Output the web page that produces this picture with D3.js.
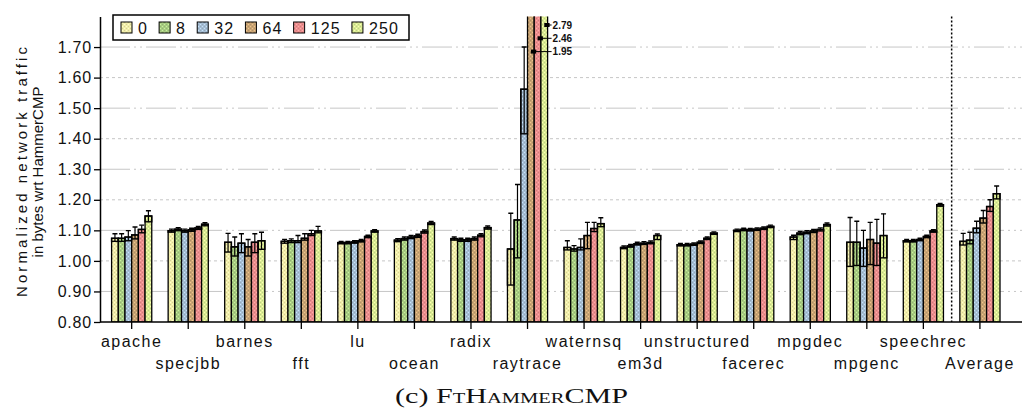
<!DOCTYPE html>
<html>
<head>
<meta charset="utf-8">
<script src="https://cdn.jsdelivr.net/npm/d3@7"></script>
<style>
body { margin: 0; background: #fff; }
text { font-family: "Liberation Sans", Arial, sans-serif; fill: #111; }
</style>
</head>
<body>
<div id="chart"></div>
<script>
"use strict";

const width = 1022;
const height = 410;

const benchmarks = ["apache", "specjbb", "barnes", "fft", "lu", "ocean", "radix", "raytrace",
    "waternsq", "em3d", "unstructured", "facerec", "mpgdec", "mpgenc", "speechrec", "Average"];
const configs = ["0", "8", "32", "64", "125", "250"];
const colors = ["#f2eeaa", "#a8cc82", "#a6bed4", "#c9a474", "#ec8e8e", "#daec94"];
const yTicks = [0.8, 0.9, 1.0, 1.1, 1.2, 1.3, 1.4, 1.5, 1.6, 1.7];

// bar heights, one row per benchmark, one column per config
const values = [
    [1.074, 1.074, 1.078, 1.085, 1.103, 1.147],
    [1.099, 1.104, 1.099, 1.102, 1.108, 1.120],
    [1.061, 1.046, 1.058, 1.046, 1.061, 1.066],
    [1.064, 1.066, 1.066, 1.074, 1.089, 1.098],
    [1.060, 1.060, 1.062, 1.066, 1.080, 1.098],
    [1.068, 1.073, 1.078, 1.082, 1.096, 1.124],
    [1.073, 1.069, 1.069, 1.073, 1.084, 1.109],
    [1.039, 1.134, 1.562, 1.95, 2.46, 2.79],
    [1.044, 1.039, 1.044, 1.083, 1.106, 1.122],
    [1.044, 1.049, 1.056, 1.058, 1.060, 1.083],
    [1.053, 1.053, 1.055, 1.061, 1.074, 1.091],
    [1.100, 1.103, 1.102, 1.104, 1.107, 1.113],
    [1.078, 1.091, 1.094, 1.098, 1.103, 1.119],
    [1.061, 1.061, 1.042, 1.070, 1.058, 1.083],
    [1.066, 1.066, 1.070, 1.080, 1.098, 1.184],
    [1.064, 1.068, 1.107, 1.140, 1.178, 1.220]
];

// lower edge of the variation box (and whisker)
const boxLow = [
    [1.064, 1.064, 1.066, 1.072, 1.092, 1.128],
    [1.094, 1.099, 1.094, 1.097, 1.103, 1.115],
    [1.029, 1.016, 1.027, 1.016, 1.027, 1.038],
    [1.058, 1.060, 1.060, 1.068, 1.083, 1.092],
    [1.056, 1.056, 1.058, 1.062, 1.076, 1.094],
    [1.063, 1.068, 1.073, 1.077, 1.091, 1.119],
    [1.068, 1.064, 1.064, 1.068, 1.079, 1.104],
    [0.921, 1.010, 1.416, 1.95, 2.46, 2.79],
    [1.036, 1.032, 1.036, 1.040, 1.096, 1.112],
    [1.040, 1.045, 1.052, 1.054, 1.056, 1.070],
    [1.049, 1.049, 1.051, 1.057, 1.070, 1.087],
    [1.096, 1.099, 1.098, 1.100, 1.103, 1.109],
    [1.070, 1.086, 1.089, 1.093, 1.098, 1.114],
    [0.982, 0.985, 0.982, 0.988, 0.985, 1.010],
    [1.062, 1.062, 1.066, 1.076, 1.094, 1.179],
    [1.052, 1.056, 1.092, 1.124, 1.162, 1.203]
];

// top of the whisker
const whiskerHigh = [
    [1.089, 1.089, 1.099, 1.111, 1.117, 1.164],
    [1.104, 1.109, 1.104, 1.107, 1.113, 1.125],
    [1.090, 1.078, 1.089, 1.070, 1.089, 1.094],
    [1.070, 1.072, 1.083, 1.089, 1.100, 1.113],
    [1.064, 1.064, 1.066, 1.070, 1.084, 1.102],
    [1.073, 1.078, 1.083, 1.087, 1.101, 1.129],
    [1.078, 1.074, 1.074, 1.078, 1.089, 1.114],
    [1.156, 1.250, 1.700, 1.95, 2.46, 2.79],
    [1.066, 1.050, 1.072, 1.126, 1.126, 1.141],
    [1.049, 1.054, 1.061, 1.063, 1.065, 1.088],
    [1.057, 1.057, 1.059, 1.065, 1.078, 1.095],
    [1.104, 1.107, 1.106, 1.108, 1.111, 1.117],
    [1.084, 1.096, 1.099, 1.103, 1.108, 1.124],
    [1.142, 1.130, 1.100, 1.126, 1.136, 1.154],
    [1.070, 1.070, 1.074, 1.084, 1.102, 1.188],
    [1.090, 1.094, 1.130, 1.165, 1.200, 1.245]
];

const plotLeft = 100, plotRight = 1022, plotTop = 16.5, plotBottom = 322;

const svg = d3.select("#chart").append("svg")
    .attr("width", width)
    .attr("height", height);

svg.append("rect").attr("width", width).attr("height", height).attr("fill", "#fff");

const x = d3.scaleBand().domain(benchmarks)
    .range([103.4, 1008.2])
    .paddingInner(0.29)
    .paddingOuter(0.145);
const xi = d3.scaleBand().domain(configs).range([0, x.bandwidth()]);
const y = d3.scaleLinear().domain([0.8, 1.8]).range([plotBottom, plotTop]);

// hatched fills
const defs = svg.append("defs");
colors.forEach((c, i) => {
    const p = defs.append("pattern")
        .attr("id", "pat" + i)
        .attr("patternUnits", "userSpaceOnUse")
        .attr("width", 4).attr("height", 4);
    p.append("rect").attr("width", 4).attr("height", 4).attr("fill", c);
    const light = d3.color(c).brighter(0.5).formatHex();
    const dark = d3.color(c).darker(0.35).formatHex();
    p.append("rect").attr("x", 0).attr("y", 0).attr("width", 1).attr("height", 1).attr("fill", light);
    p.append("rect").attr("x", 2).attr("y", 2).attr("width", 1).attr("height", 1).attr("fill", light);
    p.append("rect").attr("x", 2).attr("y", 0).attr("width", 1).attr("height", 1).attr("fill", dark);
    p.append("rect").attr("x", 0).attr("y", 2).attr("width", 1).attr("height", 1).attr("fill", dark);
});
defs.append("clipPath").attr("id", "plotclip")
    .append("rect")
    .attr("x", plotLeft).attr("y", plotTop)
    .attr("width", plotRight - plotLeft).attr("height", plotBottom - plotTop);

// grid lines
svg.append("g").selectAll("line")
    .data(yTicks.filter(v => v > 0.8))
    .enter().append("line")
    .attr("x1", plotLeft).attr("x2", plotRight)
    .attr("y1", d => y(d)).attr("y2", d => y(d))
    .attr("stroke", "#c6c6c6")
    .attr("stroke-width", 1)
    .attr("stroke-dasharray", (d, i) => i % 2 ? "3,3" : "30,4,2,4,2,4");

// separator before Average
const sepX = (x("speechrec") + x("Average") + x.bandwidth()) / 2;
svg.append("line")
    .attr("x1", sepX).attr("x2", sepX)
    .attr("y1", plotTop).attr("y2", plotBottom)
    .attr("stroke", "#000").attr("stroke-width", 1.5)
    .attr("stroke-dasharray", "2,2");

// flatten data
let bars = [];
benchmarks.forEach((b, i) => {
    configs.forEach((c, j) => {
        bars.push({ bench: b, conf: c, j: j, v: values[i][j], lo: boxLow[i][j], hi: whiskerHigh[i][j] });
    });
});

const barG = svg.append("g").attr("clip-path", "url(#plotclip)");
const bw = xi.bandwidth();

barG.selectAll("rect.bar")
    .data(bars)
    .enter().append("rect")
    .attr("class", "bar")
    .attr("x", d => x(d.bench) + xi(d.conf))
    .attr("y", d => y(d.v))
    .attr("width", bw)
    .attr("height", d => plotBottom - y(d.v))
    .attr("fill", d => "url(#pat" + d.j + ")")
    .attr("stroke", "#000")
    .attr("stroke-width", 1.3);

// variation boxes
barG.selectAll("rect.box")
    .data(bars.filter(d => d.lo < d.v))
    .enter().append("rect")
    .attr("class", "box")
    .attr("x", d => x(d.bench) + xi(d.conf))
    .attr("y", d => y(d.v))
    .attr("width", bw)
    .attr("height", d => y(d.lo) - y(d.v))
    .attr("fill", "none")
    .attr("stroke", "#000")
    .attr("stroke-width", 1.4);

// whiskers
const wh = bars.filter(d => d.hi > d.v);
barG.selectAll("line.whisk")
    .data(wh)
    .enter().append("line")
    .attr("class", "whisk")
    .attr("x1", d => x(d.bench) + xi(d.conf) + bw / 2)
    .attr("x2", d => x(d.bench) + xi(d.conf) + bw / 2)
    .attr("y1", d => y(d.lo))
    .attr("y2", d => y(d.hi))
    .attr("stroke", "#000").attr("stroke-width", 1.2);
barG.selectAll("line.cap")
    .data(wh)
    .enter().append("line")
    .attr("class", "cap")
    .attr("x1", d => x(d.bench) + xi(d.conf) + bw / 2 - 2.5)
    .attr("x2", d => x(d.bench) + xi(d.conf) + bw / 2 + 2.5)
    .attr("y1", d => y(d.hi))
    .attr("y2", d => y(d.hi))
    .attr("stroke", "#000").attr("stroke-width", 1.4);

// labels for bars that run off the top
const offScale = bars.filter(d => d.v > y.domain()[1]).sort((a, b) => b.v - a.v);
const fmt2 = d3.format(".2f");
const labelX = x("raytrace") + x.bandwidth() + 5;
offScale.forEach((d, k) => {
    const ly = plotTop + 8.5 + k * 13.3;
    const bx = x(d.bench) + xi(d.conf);
    svg.append("rect")
        .attr("x", bx + bw / 2).attr("y", ly - 2)
        .attr("width", bw / 2 + 2).attr("height", 4)
        .attr("fill", "#000");
    svg.append("line")
        .attr("x1", bx + bw).attr("x2", labelX - 1)
        .attr("y1", ly).attr("y2", ly)
        .attr("stroke", "#000").attr("stroke-width", 1);
    svg.append("text")
        .attr("x", labelX).attr("y", ly)
        .attr("dy", "0.35em")
        .style("font-size", "10px")
        .style("font-weight", "bold")
        .text(fmt2(d.v));
});

// y axis
const yAxis = svg.append("g")
    .attr("transform", "translate(" + plotLeft + ",0)")
    .call(d3.axisLeft(y).tickValues(yTicks).tickFormat(d3.format(".2f")).tickSize(6).tickSizeOuter(0));
yAxis.select(".domain").attr("stroke", "#000").attr("stroke-width", 1.5);
yAxis.selectAll(".tick line").attr("stroke", "#000").attr("stroke-width", 1.3);
yAxis.selectAll(".tick text")
    .attr("x", -8)
    .style("font-family", "Liberation Sans, Arial, sans-serif")
    .style("font-size", "16px")
    .style("letter-spacing", "0.8px")
    .attr("fill", "#111");

// x baseline and ticks
svg.append("line")
    .attr("x1", plotLeft).attr("x2", plotRight)
    .attr("y1", plotBottom).attr("y2", plotBottom)
    .attr("stroke", "#000").attr("stroke-width", 1.5);
svg.append("g").selectAll("line")
    .data(benchmarks)
    .enter().append("line")
    .attr("x1", d => x(d) + x.bandwidth() / 2)
    .attr("x2", d => x(d) + x.bandwidth() / 2)
    .attr("y1", plotBottom).attr("y2", plotBottom + 7)
    .attr("stroke", "#000").attr("stroke-width", 1.3);
svg.append("g").selectAll("text")
    .data(benchmarks)
    .enter().append("text")
    .attr("x", d => x(d) + x.bandwidth() / 2)
    .attr("y", (d, i) => i % 2 ? 369 : 347)
    .attr("text-anchor", "middle")
    .style("font-size", "16px")
    .style("letter-spacing", "1.5px")
    .text(d => d);

// y title
const yt = svg.append("g").attr("transform", "translate(27,172) rotate(-90)");
yt.append("text").attr("text-anchor", "middle")
    .style("font-size", "15px")
    .attr("textLength", 250).attr("lengthAdjust", "spacing")
    .text("Normalized network traffic");
yt.append("text").attr("text-anchor", "middle")
    .attr("y", 16)
    .style("font-size", "15px")
    .text("in bytes wrt HammerCMP");

// legend
const legend = svg.append("g");
legend.append("rect")
    .attr("x", 113).attr("y", 15).attr("width", 296).attr("height", 25)
    .attr("fill", "#fff").attr("stroke", "#000").attr("stroke-width", 1.5);
let lx = 121;
configs.forEach((c, i) => {
    legend.append("rect")
        .attr("x", lx).attr("y", 22).attr("width", 11).attr("height", 11)
        .attr("fill", "url(#pat" + i + ")")
        .attr("stroke", "#000").attr("stroke-width", 1);
    const t = legend.append("text")
        .attr("x", lx + 17).attr("y", 33.5)
        .style("font-size", "16px")
        .style("letter-spacing", "1.2px")
        .text(c);
    lx += 17 + t.node().getComputedTextLength() + 11;
});

// caption
const cap = svg.append("text")
    .attr("x", 511.5).attr("y", 403)
    .attr("text-anchor", "middle")
    .attr("textLength", 233).attr("lengthAdjust", "spacingAndGlyphs")
    .style("font-family", "Liberation Serif, Times New Roman, serif")
    .style("font-size", "22px");
cap.append("tspan").text("(c) ");
cap.append("tspan").style("font-variant", "small-caps").text("FtHammerCMP");
</script>
</body>
</html>
